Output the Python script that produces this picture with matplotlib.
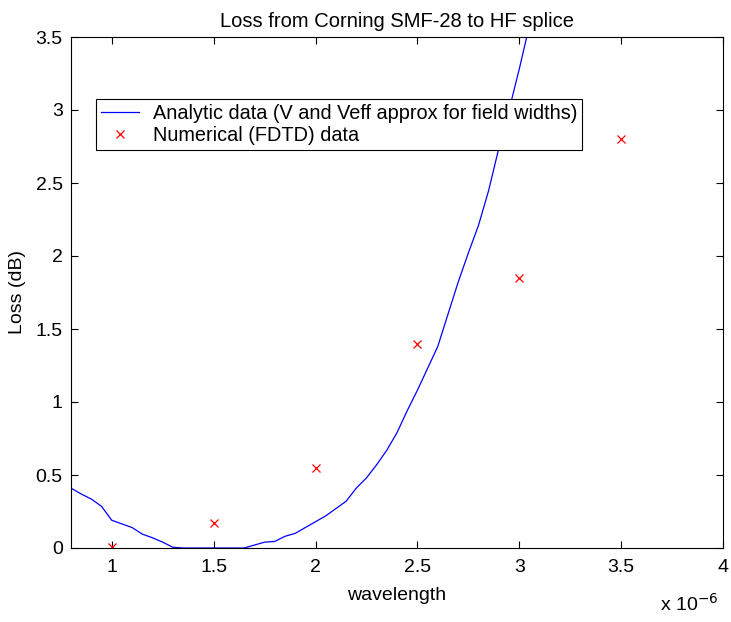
import matplotlib
matplotlib.use("Agg")
import matplotlib.pyplot as plt
from matplotlib.ticker import FuncFormatter

plt.rcParams['font.family'] = ['Liberation Sans', 'DejaVu Sans']

title = "Loss from Corning SMF-28 to HF splice"
xlabel = "wavelength"
ylabel = "Loss (dB)"
label_analytic = "Analytic data (V and Veff approx for field widths)"
label_numeric = "Numerical (FDTD) data"

# Analytic curve (wavelength in m, loss in dB)
wl_analytic = [0.80e-6, 0.85e-6, 0.90e-6, 0.95e-6, 1.00e-6, 1.05e-6, 1.10e-6, 1.15e-6,
               1.20e-6, 1.25e-6, 1.30e-6, 1.35e-6, 1.40e-6, 1.45e-6, 1.50e-6, 1.55e-6,
               1.60e-6, 1.65e-6, 1.70e-6, 1.75e-6, 1.80e-6, 1.85e-6, 1.90e-6, 1.95e-6,
               2.00e-6, 2.05e-6, 2.10e-6, 2.15e-6, 2.20e-6, 2.25e-6, 2.30e-6, 2.35e-6,
               2.40e-6, 2.45e-6, 2.50e-6, 2.55e-6, 2.60e-6, 2.65e-6, 2.70e-6, 2.75e-6,
               2.80e-6, 2.85e-6, 2.90e-6, 2.95e-6, 3.00e-6, 3.05e-6]
loss_analytic = [0.41, 0.37, 0.335, 0.285, 0.19, 0.165, 0.14, 0.095,
                 0.07, 0.04, 0.005, 0.0, 0.0, 0.0, 0.0, 0.0,
                 0.0, 0.0, 0.02, 0.04, 0.045, 0.08, 0.10, 0.14,
                 0.18, 0.22, 0.27, 0.32, 0.41, 0.48, 0.57, 0.67,
                 0.79, 0.94, 1.08, 1.23, 1.38, 1.60, 1.82, 2.02,
                 2.21, 2.45, 2.74, 3.00, 3.28, 3.58]

# Numerical (FDTD) points
wl_numeric = [1.0e-6, 1.5e-6, 2.0e-6, 2.5e-6, 3.0e-6, 3.5e-6]
loss_numeric = [0.01, 0.17, 0.55, 1.40, 1.85, 2.80]

xticks = [1.0e-6, 1.5e-6, 2.0e-6, 2.5e-6, 3.0e-6, 3.5e-6, 4.0e-6]
yticks = [0, 0.5, 1, 1.5, 2, 2.5, 3, 3.5]

fig = plt.figure(figsize=(7.31, 6.22), dpi=100)
ax = fig.add_axes([71/731, 1-548/622, (723-71)/731, (548-37)/622])

ax.plot(wl_analytic, loss_analytic, color='#0000ff', lw=0.9, label=label_analytic)
ax.plot(wl_numeric, loss_numeric, linestyle='none', marker='x', color='#ff0000',
        markersize=6, markeredgewidth=0.9, label=label_numeric)

ax.set_xlim(0.8e-6, 4.0e-6)
ax.set_ylim(0, 3.5)
ax.set_xticks(xticks)
ax.set_yticks(yticks)
ax.xaxis.set_major_formatter(FuncFormatter(lambda v, p: "%g" % round(v * 1e6, 3)))
ax.yaxis.set_major_formatter(FuncFormatter(lambda v, p: "%g" % v))
ax.tick_params(direction='in', length=5, width=0.8, top=True, right=True,
               labelsize=14)
ax.tick_params(axis='x', pad=8)
ax.tick_params(axis='y', pad=6)
for s in ax.spines.values():
    s.set_linewidth(0.8)

ax.set_title(title, fontsize=14.5, pad=7)
ax.set_xlabel(xlabel, fontsize=14, labelpad=8)
ax.set_ylabel(ylabel, fontsize=14, labelpad=7)
fig.text(718/731, 1-604/622, r"x 10$^{-6}$", ha='right', va='center', fontsize=14)

leg = ax.legend(loc='upper left', bbox_to_anchor=((96-71)/652, (548-99)/511),
                borderaxespad=0, fancybox=False, framealpha=1, edgecolor='black',
                fontsize=14.3, handlelength=1.9, handletextpad=0.7, borderpad=0.25,
                labelspacing=0.15, handleheight=0.7)
leg.get_frame().set_linewidth(0.8)

fig.savefig("out.png", dpi=100)
